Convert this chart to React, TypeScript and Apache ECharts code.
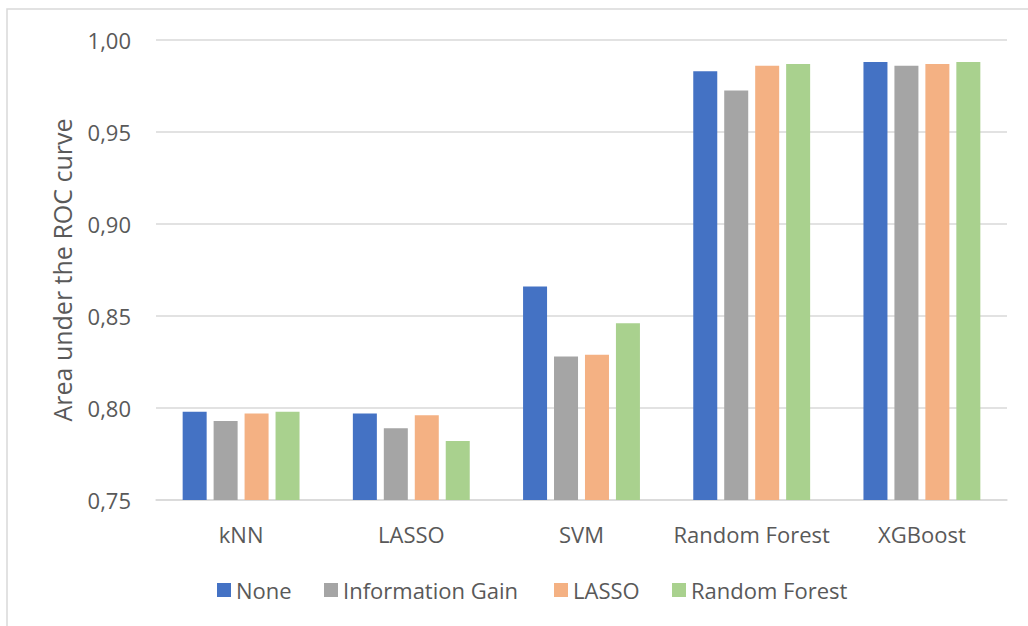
import React, { useEffect, useRef } from "react";
import * as echarts from "echarts";

const categories = ["kNN", "LASSO", "SVM", "Random Forest", "XGBoost"];
const seriesNames = ["None", "Information Gain", "LASSO", "Random Forest"];
const noneValues = [0.798, 0.797, 0.866, 0.983, 0.988];
const infoGainValues = [0.793, 0.789, 0.828, 0.9725, 0.986];
const lassoValues = [0.797, 0.796, 0.829, 0.986, 0.987];
const rfValues = [0.798, 0.782, 0.846, 0.987, 0.988];
const colors = ["#4472C4", "#A5A5A5", "#F4B183", "#A9D18E"];
const legendLefts = [212, 319, 549, 667];

const FONT = "Open Sans";
const TEXT = "#595959";
const FS = 22;

export default function App() {
  const ref = useRef<HTMLDivElement>(null);
  useEffect(() => {
    if (!ref.current) return;
    const chart = echarts.init(ref.current, undefined, { renderer: "svg" });
    const data = [noneValues, infoGainValues, lassoValues, rfValues];
    chart.setOption({
      animation: false,
      backgroundColor: "#ffffff",
      textStyle: { fontFamily: FONT, color: TEXT },
      graphic: [
        {
          type: "rect",
          shape: { x: 7, y: 9, width: 1060, height: 660 },
          style: { fill: "none", stroke: "#d9d9d9", lineWidth: 1.5 },
          silent: true,
        },
      ],
      legend: seriesNames.map((n, i) => ({
        data: [n],
        left: legendLefts[i],
        top: 574,
        itemWidth: 14,
        itemHeight: 14,
        itemGap: 6,
        icon: "rect",
        textStyle: { fontFamily: FONT, fontSize: FS, color: TEXT },
      })),
      grid: { left: 156, right: 21, top: 40, bottom: 126, containLabel: false },
      xAxis: {
        type: "category",
        data: categories,
        axisLine: { lineStyle: { color: "#d9d9d9", width: 1.5 } },
        axisTick: { show: false },
        axisLabel: { fontFamily: FONT, fontSize: FS, color: TEXT, margin: 23, interval: 0 },
      },
      yAxis: {
        type: "value",
        min: 0.75,
        max: 1.0,
        interval: 0.05,
        name: "Area under the ROC curve",
        nameLocation: "middle",
        nameGap: 82,
        nameTextStyle: { fontFamily: FONT, fontSize: 25, color: TEXT },
        axisLine: { show: false },
        axisTick: { show: false },
        splitLine: { lineStyle: { color: "#d9d9d9", width: 1.5 } },
        axisLabel: {
          fontFamily: FONT,
          fontSize: FS,
          color: TEXT,
          margin: 25,
          formatter: (v: number) => v.toFixed(2).replace(".", ","),
        },
      },
      series: seriesNames.map((n, i) => ({
        name: n,
        type: "bar",
        data: data[i],
        barWidth: 24,
        barGap: "29%",
        itemStyle: { color: colors[i] },
      })),
    });
    return () => chart.dispose();
  }, []);
  return (
    <div
      ref={ref}
      style={{ position: "fixed", left: 0, top: 0, width: 1028, height: 626 }}
    />
  );
}
